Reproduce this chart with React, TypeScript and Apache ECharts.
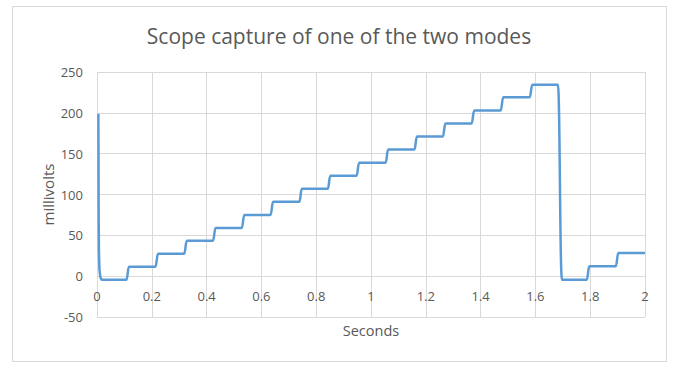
import React, { useEffect, useRef } from "react";
import * as echarts from "echarts";

const chartTitle = "Scope capture of one of the two modes";
const xAxisName = "Seconds";
const yAxisName = "millivolts";

// Start of the trace: tail of the falling edge (seconds, millivolts)
const startTrace: [number, number][] = [
  [0.005, 197.5],
  [0.0055, 150],
  [0.006, 80],
  [0.007, 30],
  [0.009, 8],
  [0.012, -1],
  [0.016, -4],
  [0.021, -4.5],
];

// Centre time of each rising step of the staircase (seconds)
const riseTimes = [
  0.112, 0.218, 0.323, 0.428, 0.533, 0.638, 0.743, 0.847, 0.952, 1.058,
  1.163, 1.267, 1.372, 1.478, 1.584,
];
// Level of each flat part of the staircase (millivolts)
const stepLevels = [
  -4.5, 11.5, 27.5, 43.5, 59, 75, 91, 107, 123, 139, 155, 171, 187, 203, 219,
  234.5,
];
// Falling edge back to the bottom
const dropTime = 1.689;
// Steps after the falling edge
const tailRiseTimes = [1.792, 1.898];
const tailLevels = [-4.5, 12, 28.3];
const endTime = 2;

const xMin = 0;
const xMax = 2;
const xInterval = 0.2;
const yMin = -50;
const yMax = 250;
const yInterval = 50;

function buildStairs(): [number, number][] {
  const half = 0.005;
  const last = startTrace[startTrace.length - 1];
  const pts: [number, number][] = [[last[0], last[1]]];
  riseTimes.forEach((t, i) => {
    pts.push([t - half, stepLevels[i]]);
    pts.push([t + half, stepLevels[i + 1]]);
  });
  pts.push([dropTime - 0.007, stepLevels[stepLevels.length - 1]]);
  pts.push([dropTime + 0.008, tailLevels[0]]);
  tailRiseTimes.forEach((t, i) => {
    pts.push([t - half, tailLevels[i]]);
    pts.push([t + half, tailLevels[i + 1]]);
  });
  pts.push([endTime, tailLevels[tailLevels.length - 1]]);
  return pts;
}

const GRID_TOP = 72;
const GRID_BOTTOM = 50;
const CHART_H = 367;

export default function App() {
  const ref = useRef<HTMLDivElement>(null);

  useEffect(() => {
    if (!ref.current) return;
    const chart = echarts.init(ref.current, undefined, { renderer: "svg" });
    const font = "'Open Sans', 'Liberation Sans', sans-serif";
    const textColor = "#595959";
    const lineColor = "#5b9bd5";
    const plotH = CHART_H - GRID_TOP - GRID_BOTTOM;
    // distance from the bottom of the plot (yMin) up to the zero line
    const zeroOffset = ((0 - yMin) / (yMax - yMin)) * plotH;
    chart.setOption({
      animation: false,
      backgroundColor: "#ffffff",
      textStyle: { fontFamily: font },
      title: {
        text: chartTitle,
        left: "center",
        top: 25,
        padding: 0,
        textStyle: {
          fontFamily: font,
          fontSize: 21,
          fontWeight: "normal",
          color: textColor,
        },
      },
      graphic: [
        {
          type: "rect",
          shape: { x: 12.5, y: 6.5, width: 654, height: 355 },
          style: { fill: "none", stroke: "#d9d9d9", lineWidth: 1 },
          silent: true,
        },
      ],
      grid: {
        left: 97,
        right: 33,
        top: GRID_TOP,
        bottom: GRID_BOTTOM,
        containLabel: false,
        outerBoundsMode: "none",
      },
      xAxis: {
        type: "value",
        min: xMin,
        max: xMax,
        interval: xInterval,
        position: "bottom",
        offset: -zeroOffset,
        name: xAxisName,
        nameLocation: "middle",
        nameGap: 47,
        nameMoveOverlap: false,
        nameTextStyle: { fontFamily: font, fontSize: 14.5, color: textColor },
        axisLine: { show: true, onZero: false, lineStyle: { color: "#d9d9d9", width: 1 } },
        axisTick: { show: false },
        axisLabel: { color: textColor, fontSize: 13, fontFamily: font, margin: 13 },
        splitLine: { show: true, lineStyle: { color: "#d9d9d9", width: 1 } },
      },
      yAxis: {
        type: "value",
        min: yMin,
        max: yMax,
        interval: yInterval,
        name: yAxisName,
        nameLocation: "middle",
        nameGap: 42,
        nameMoveOverlap: false,
        nameTextStyle: { fontFamily: font, fontSize: 15, color: textColor },
        axisLine: { show: false },
        axisTick: { show: false },
        axisLabel: { color: textColor, fontSize: 13, fontFamily: font, margin: 14 },
        splitLine: { show: true, lineStyle: { color: "#d9d9d9", width: 1 } },
      },
      series: [
        {
          type: "line",
          data: startTrace,
          showSymbol: false,
          smooth: false,
          lineStyle: { color: lineColor, width: 2.5, cap: "round", join: "round" },
          itemStyle: { color: lineColor },
          clip: false,
        },
        {
          type: "line",
          data: buildStairs(),
          showSymbol: false,
          smooth: 0.5,
          smoothMonotone: "x",
          lineStyle: { color: lineColor, width: 2.5 },
          itemStyle: { color: lineColor },
          clip: false,
        },
      ],
    });
    return () => chart.dispose();
  }, []);

  return (
    <div
      ref={ref}
      style={{ position: "absolute", left: 0, top: 0, width: 678, height: 367 }}
    />
  );
}
